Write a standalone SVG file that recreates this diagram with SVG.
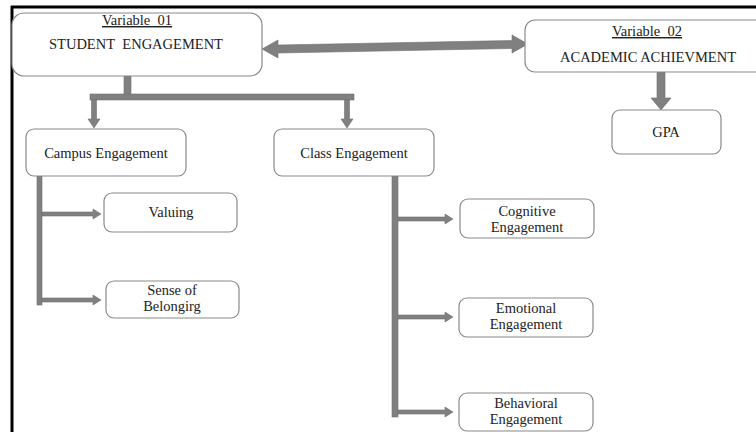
<svg xmlns="http://www.w3.org/2000/svg" width="756" height="432" viewBox="0 0 756 432">
<style>
.box{fill:#fff;stroke:#8a8a8a;stroke-width:1.2}
.t{font-family:"Liberation Serif","Times New Roman",serif;font-size:14.5px;fill:#222;text-anchor:middle}
.u{text-decoration:underline}
.ar{fill:#808080;stroke:#707070;stroke-width:0.6}
.frame{stroke:#000;stroke-width:3;fill:none}
</style>
<rect width="756" height="432" fill="#fff"/>
<g id="frame">
<line class="frame" x1="11" y1="7" x2="756" y2="7"/>
<line class="frame" x1="12" y1="6" x2="12" y2="432"/>
</g>
<g id="connectors">
<polygon class="ar" points="262,49 278,40 278,45 512,40.5 512,35 528,44 512,53 512,48.5 278,53 278,58"/>
<rect class="ar" x="124" y="76" width="7" height="21"/>
<rect class="ar" x="90" y="94" width="264" height="6"/>
<polygon class="ar" points="91.5,100 96.5,100 96.5,119 100,119 94,128 88,119 91.5,119"/>
<polygon class="ar" points="344.5,100 349.5,100 349.5,119 353,119 347,128 341,119 344.5,119"/>
<polygon class="ar" points="657,72 665,72 665,98 671,98 661,110 651,98 657,98"/>
<rect class="ar" x="37" y="176" width="5" height="129"/>
<polygon class="ar" points="42,212 93,212 93,209 101,214 93,219 93,216 42,216"/>
<polygon class="ar" points="42,298 93,298 93,295 101,300 93,305 93,302 42,302"/>
<rect class="ar" x="392" y="176" width="6" height="241"/>
<polygon class="ar" points="398,217 445,217 445,214 453,219 445,224 445,221 398,221"/>
<polygon class="ar" points="398,315 445,315 445,312 453,317 445,322 445,319 398,319"/>
<polygon class="ar" points="398,410 445,410 445,407 453,412 445,417 445,414 398,414"/>
</g>
<g id="student-engagement">
<rect class="box" x="12" y="13" width="250" height="63" rx="12"/>
<text class="t u" x="137" y="25">Variable&#160; 01</text>
<text class="t" x="136" y="49">STUDENT&#160; ENGAGEMENT</text>
</g>
<g id="academic-achievement">
<rect class="box" x="525" y="20" width="245" height="52" rx="10"/>
<text class="t u" x="647" y="36">Variable&#160; 02</text>
<text class="t" x="648" y="62">ACADEMIC ACHIEVMENT</text>
</g>
<g id="gpa">
<rect class="box" x="612" y="110" width="109" height="44" rx="8"/>
<text class="t" x="666" y="137">GPA</text>
</g>
<g id="campus-engagement">
<rect class="box" x="26" y="129" width="160" height="47" rx="8"/>
<text class="t" x="106" y="158">Campus Engagement</text>
</g>
<g id="class-engagement">
<rect class="box" x="274" y="129" width="160" height="47" rx="8"/>
<text class="t" x="354" y="158">Class Engagement</text>
</g>
<g id="valuing">
<rect class="box" x="104" y="193" width="133" height="39" rx="8"/>
<text class="t" x="171" y="217">Valuing</text>
</g>
<g id="sense-of-belonging">
<rect class="box" x="106" y="281" width="133" height="37" rx="8"/>
<text class="t" x="172" y="295">Sense of</text>
<text class="t" x="172" y="311">Belongirg</text>
</g>
<g id="cognitive-engagement">
<rect class="box" x="460" y="199" width="134" height="39" rx="8"/>
<text class="t" x="527" y="216">Cognitive</text>
<text class="t" x="527" y="232">Engagement</text>
</g>
<g id="emotional-engagement">
<rect class="box" x="459" y="298" width="134" height="39" rx="8"/>
<text class="t" x="526" y="313">Emotional</text>
<text class="t" x="526" y="329">Engagement</text>
</g>
<g id="behavioral-engagement">
<rect class="box" x="459" y="393" width="134" height="38" rx="8"/>
<text class="t" x="526" y="408">Behavioral</text>
<text class="t" x="526" y="424">Engagement</text>
</g>
</svg>
